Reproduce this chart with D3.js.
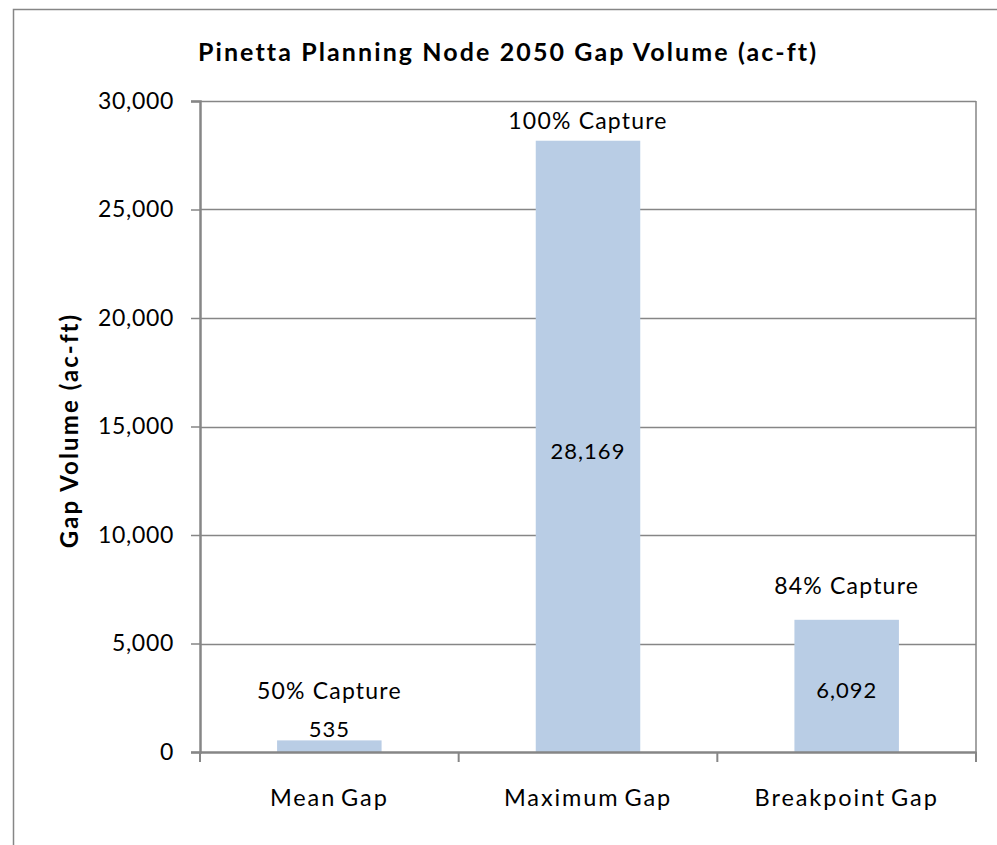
<!DOCTYPE html>
<html>
<head>
<meta charset="utf-8">
<script src="https://cdn.jsdelivr.net/npm/d3@7"></script>
<style>
  html, body { margin: 0; padding: 0; background: #fff; }
  svg { display: block; }
  text { font-family: Lato, "Open Sans", sans-serif; fill: #000; }
</style>
</head>
<body>
<svg id="chart" width="997" height="845"></svg>
<script>
// ---- data ----
const categories = ["Mean Gap", "Maximum Gap", "Breakpoint Gap"];
const values = [535, 28169, 6092];
const captureLabels = ["50% Capture", "100% Capture", "84% Capture"];
const yTicks = [0, 5000, 10000, 15000, 20000, 25000, 30000];
const titleText = "Pinetta Planning Node 2050 Gap Volume (ac-ft)";
const yAxisTitle = "Gap Volume (ac-ft)";

// ---- layout ----
const plot = { left: 200, top: 101, right: 976, bottom: 752 };
const captureOffsets = [50, 21, 35]; // px above bar top (manual text boxes)
const gray = "#868686";
const barColor = "#B9CDE5";

const svg = d3.select("#chart");

// outer frame (clipped by viewport on right/bottom)
svg.append("rect")
  .attr("x", 13.5).attr("y", 9.5)
  .attr("width", 1000).attr("height", 900)
  .attr("fill", "none").attr("stroke", gray).attr("stroke-width", 1.5);

const x = d3.scaleBand().domain(categories).range([plot.left, plot.right]).padding(0);
const y = d3.scaleLinear().domain([0, 30000]).range([plot.bottom, plot.top]);
const barW = x.bandwidth() * 0.404;

// gridlines
svg.append("g").selectAll("line").data(yTicks.filter(d => d > 0)).join("line")
  .attr("x1", plot.left).attr("x2", plot.right)
  .attr("y1", d => Math.round(y(d)) + 0.5).attr("y2", d => Math.round(y(d)) + 0.5)
  .attr("stroke", gray).attr("stroke-width", 1.3);

// plot right border
svg.append("line")
  .attr("x1", plot.right).attr("x2", plot.right)
  .attr("y1", plot.top).attr("y2", plot.bottom)
  .attr("stroke", gray).attr("stroke-width", 1.5);

// bars
svg.append("g").selectAll("rect").data(values).join("rect")
  .attr("x", (d, i) => x(categories[i]) + (x.bandwidth() - barW) / 2)
  .attr("width", barW)
  .attr("y", d => y(d))
  .attr("height", d => y(0) - y(d))
  .attr("fill", barColor);

// y axis
const yAxis = d3.axisLeft(y).tickValues(yTicks).tickFormat(d3.format(",")).tickSize(9).tickPadding(17);
const gy = svg.append("g").attr("transform", `translate(${plot.left},0)`).call(yAxis);
gy.select(".domain").attr("stroke", gray).attr("stroke-width", 2.5);
gy.selectAll(".tick line").attr("stroke", gray).attr("stroke-width", 1.5);
gy.selectAll(".tick text").attr("font-size", 23).attr("fill", "#000")
  .style("font-family", "Lato, sans-serif").attr("letter-spacing", 0.7);

// x axis
const xAxis = d3.axisBottom(x).tickSize(0).tickPadding(37);
const gx = svg.append("g").attr("transform", `translate(0,${plot.bottom})`).call(xAxis);
gx.select(".domain").attr("stroke", gray).attr("stroke-width", 2.5);
gx.selectAll(".tick text").attr("font-size", 23.5).attr("fill", "#000")
  .style("font-family", "Lato, sans-serif").attr("letter-spacing", 1.9).attr("word-spacing", -3);
// category boundary ticks
const bounds = categories.map(c => x(c)).concat([plot.right]);
svg.append("g").selectAll("line").data(bounds).join("line")
  .attr("x1", d => d).attr("x2", d => d)
  .attr("y1", plot.bottom).attr("y2", plot.bottom + 10)
  .attr("stroke", gray).attr("stroke-width", 2);

// value labels
svg.append("g").selectAll("text").data(values).join("text")
  .attr("x", (d, i) => x(categories[i]) + x.bandwidth() / 2)
  .attr("y", d => {
    const h = y(0) - y(d);
    return h > 40 ? (y(d) + y(0)) / 2 + 4 : y(d) - 12;
  })
  .attr("text-anchor", "middle").attr("dominant-baseline", "central")
  .attr("font-size", 22).attr("letter-spacing", 1.0)
  .text(d => d3.format(",")(d));

// capture labels
svg.append("g").selectAll("text").data(captureLabels).join("text")
  .attr("x", (d, i) => x(categories[i]) + x.bandwidth() / 2)
  .attr("y", (d, i) => y(values[i]) - captureOffsets[i])
  .attr("text-anchor", "middle").attr("dominant-baseline", "central")
  .attr("font-size", 23).attr("letter-spacing", 1.2)
  .text(d => d);

// title
svg.append("text")
  .attr("x", 508).attr("y", 51)
  .attr("text-anchor", "middle").attr("dominant-baseline", "central")
  .attr("font-size", 25).attr("font-weight", "bold").attr("letter-spacing", 2.1)
  .text(titleText);

// y axis title
svg.append("text")
  .attr("transform", `translate(68,${(plot.top + plot.bottom) / 2 + 4}) rotate(-90)`)
  .attr("text-anchor", "middle").attr("dominant-baseline", "central")
  .attr("font-size", 24).attr("font-weight", "bold").attr("letter-spacing", 2.1)
  .text(yAxisTitle);
</script>
</body>
</html>
